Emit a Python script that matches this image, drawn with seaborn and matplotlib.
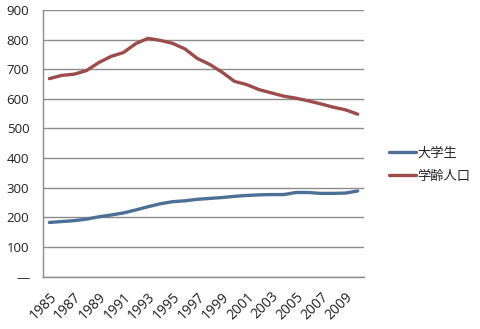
import matplotlib
matplotlib.use("Agg")
import matplotlib.pyplot as plt
import matplotlib.transforms as mtransforms
import numpy as np
import pandas as pd
import seaborn as sns

years = list(range(1985, 2011))
students = [183, 186, 189, 194, 202, 208, 215, 225, 236, 246, 253, 256, 261, 264,
            267, 271, 274, 276, 277, 277, 284, 284, 281, 281, 282, 289]
school_age = [668, 679, 683, 695, 722, 743, 756, 786, 804, 797, 787, 768, 736, 716,
              690, 659, 648, 631, 620, 609, 602, 593, 583, 572, 563, 548]
series_names = ["大学生", "学齢人口"]
y_ticks = [0, 100, 200, 300, 400, 500, 600, 700, 800, 900]
y_labels = ["—", "100", "200", "300", "400", "500", "600", "700", "800", "900"]

df = pd.DataFrame({
    "year": years * 2,
    "value": students + school_age,
    "series": [series_names[0]] * len(years) + [series_names[1]] * len(years),
})

sns.set_theme(style="white")
plt.rcParams["font.family"] = ["Open Sans", "Noto Sans CJK JP", "DejaVu Sans"]

fig = plt.figure(figsize=(4.8, 3.29), dpi=100)
ax = fig.add_axes([0.090, 0.159, 0.668, 0.811])

palette = {series_names[0]: "#4d7096", series_names[1]: "#9e4b4b"}
sns.lineplot(data=df, x="year", y="value", hue="series", palette=palette,
             linewidth=2.4, ax=ax, legend=True)

ax.set_xlim(1984.5, 2010.5)
ax.set_ylim(0, 900)
ax.set_xlabel("")
ax.set_ylabel("")

ax.set_yticks(y_ticks)
ax.set_yticklabels(y_labels, fontsize=9.5, color="#222222")
ax.yaxis.grid(True, color="#8c8c8c", linewidth=1.0)
ax.set_axisbelow(True)

label_years = years[::2]
ax.set_xticks(label_years)
ax.set_xticklabels([str(y) for y in label_years], rotation=45, ha="right",
                   rotation_mode="anchor", fontsize=10, color="#222222")
shift = mtransforms.ScaledTranslation(3 / 100, 0, fig.dpi_scale_trans)
for lbl in ax.get_xticklabels():
    lbl.set_transform(lbl.get_transform() + shift)
ax.set_xticks([y - 0.5 for y in years] + [years[-1] + 0.5], minor=True)
ax.tick_params(axis="x", which="major", length=0, pad=9)
ax.tick_params(axis="x", which="minor", length=4, color="#8c8c8c", width=1)
ax.tick_params(axis="y", which="major", length=4, color="#8c8c8c", width=1, pad=6)

for side in ["top", "right"]:
    ax.spines[side].set_visible(False)
for side in ["left", "bottom"]:
    ax.spines[side].set_color("#8c8c8c")
    ax.spines[side].set_linewidth(1.0)

handles, labels = ax.get_legend_handles_labels()
ax.legend(handles, labels, loc="center left", bbox_to_anchor=(1.04, 0.42),
          frameon=False, handlelength=2.1, handletextpad=0.1,
          labelspacing=0.8, prop={"family": ["Noto Sans CJK JP"], "size": 9.5})

fig.savefig("out.png", dpi=100, facecolor="white")
